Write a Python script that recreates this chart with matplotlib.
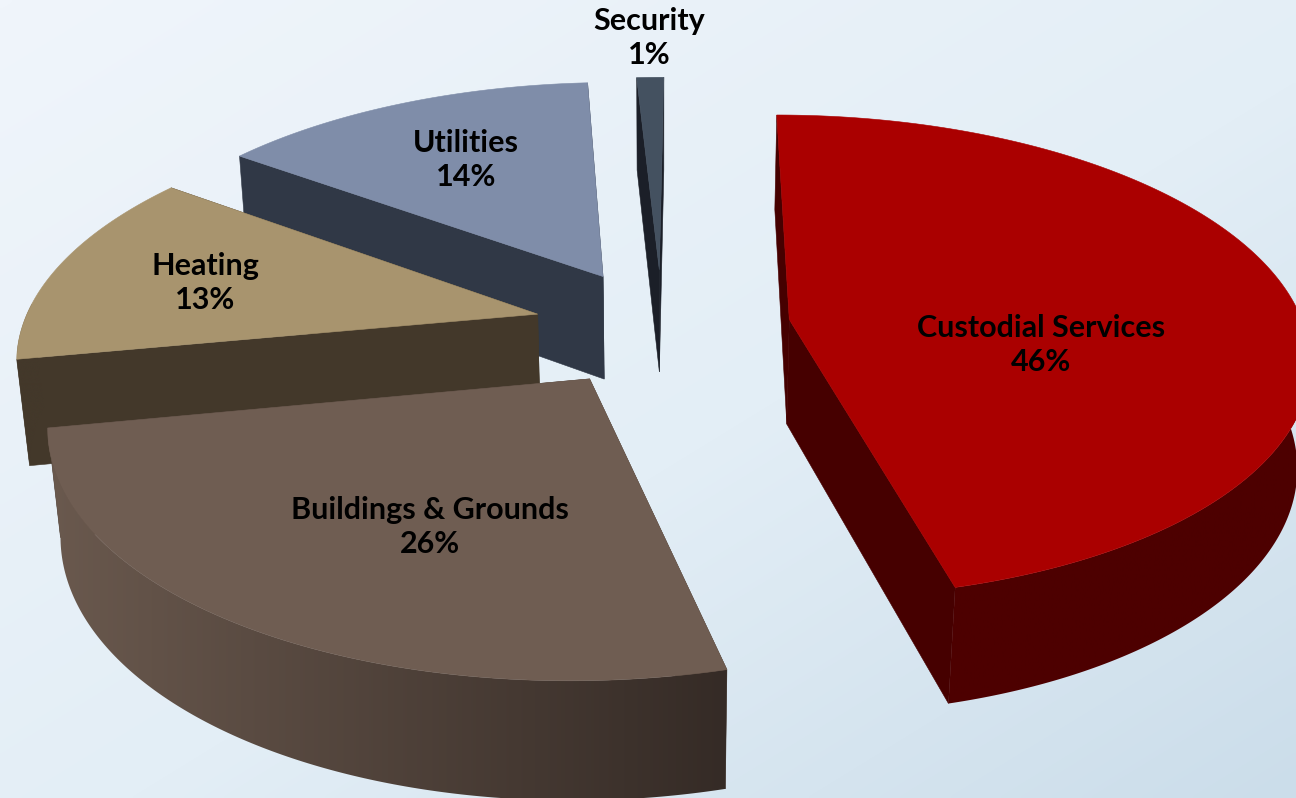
import numpy as np
import matplotlib
matplotlib.use("Agg")
import matplotlib.pyplot as plt
from matplotlib.colors import LinearSegmentedColormap, to_rgb
from matplotlib.patches import Polygon

# Budget shares, clockwise from twelve o'clock
categories = ["Custodial Services", "Buildings & Grounds", "Heating", "Utilities", "Security"]
shares = [46, 26, 13, 14, 1]

top_colors = ["#AA0000", "#6F5D52", "#A8946E", "#7F8DA9", "#445160"]
side_colors = ["#460000", "#4A3C33", "#43382A", "#303846", "#1B1F28"]
wall_near = ["#4D0000", "#6A594E", "#43382A", "#303846", "#1B1F28"]
wall_far = ["#4D0000", "#352B26", "#43382A", "#303846", "#1B1F28"]

# Projection settings for the tilted pie
W, H = 1296, 798
CX, CY = 662.0, 327.0
SCALE_X, SCALE_Y = 515.0, 238.0
SHEAR = 5.0
PERSPECTIVE = 0.153
THICK_PX = 107.0
THICK_W = 0.02
EXPLODE = 0.25
START_DEG = 0.0


def project(x, y, bottom=False):
    x, y = np.asarray(x), np.asarray(y)
    w = 1 + PERSPECTIVE * y
    dz = THICK_PX if bottom else 0.0
    w = w + (THICK_W if bottom else 0.0)
    return CX + (SCALE_X * x + SHEAR * y) / w, CY + (-SCALE_Y * y + dz) / w


fig = plt.figure(figsize=(W / 100, H / 100), dpi=100)
ax = fig.add_axes([0, 0, 1, 1])
ax.set_xlim(0, W)
ax.set_ylim(H, 0)
ax.set_autoscale_on(False)
ax.axis("off")

# Pale diagonal wash behind the pie
gx, gy = np.meshgrid(np.linspace(0, 1, 300), np.linspace(0, 1, 200))
wash = LinearSegmentedColormap.from_list(
    "wash", [(0, "#F0F5FB"), (0.55, "#E3EEF6"), (1, "#CBDDEA")])
ax.imshow((gx + gy) / 2, cmap=wash, vmin=0, vmax=1, extent=(0, W, H, 0),
          aspect="auto", zorder=0, interpolation="bilinear")

edges = np.radians(START_DEG + np.concatenate([[0], np.cumsum(shares)]) * 3.6)
# Painted back to front so nearer slices cover farther ones
order = [4, 3, 2, 1, 0]
z = 1
for i in order:
    a0, a1 = edges[i], edges[i + 1]
    mid = (a0 + a1) / 2
    ox, oy = EXPLODE * np.sin(mid), EXPLODE * np.cos(mid)
    t = np.linspace(a0, a1, max(8, int(shares[i] * 6)))
    px, py = ox + np.sin(t), oy + np.cos(t)

    tx, ty = project(px, py)
    bx, by = project(px, py, bottom=True)
    ax0, ay0 = project(ox, oy)
    bx0, by0 = project(ox, oy, bottom=True)

    side = to_rgb(side_colors[i])
    # Two flat cut faces
    for k in (0, -1):
        ax.add_patch(Polygon([(ax0, ay0), (tx[k], ty[k]), (bx[k], by[k]), (bx0, by0)],
                             closed=True, fc=side, ec=side, lw=0.4, zorder=z))
    z += 1
    # Curved outer wall, on the side facing the viewer, shaded left to right
    front = np.cos(t) < 0.05
    if front.sum() >= 2:
        wall = np.vstack([np.column_stack([tx[front], ty[front]]),
                          np.column_stack([bx[front], by[front]])[::-1]])
        x0, x1 = wall[:, 0].min(), wall[:, 0].max()
        y0, y1 = wall[:, 1].min(), wall[:, 1].max()
        ramp = LinearSegmentedColormap.from_list("ramp", [wall_near[i], wall_far[i]])
        img = ax.imshow(np.linspace(0, 1, 256)[None, :], cmap=ramp, vmin=0, vmax=1,
                        extent=(x0, x1, y1, y0), aspect="auto", zorder=z,
                        interpolation="bilinear")
        outline = Polygon(wall, closed=True, transform=ax.transData, fc="none", ec="none")
        ax.add_patch(outline)
        img.set_clip_path(outline)
    z += 1
    top = np.column_stack([np.r_[ax0, tx], np.r_[ay0, ty]])
    ax.add_patch(Polygon(top, closed=True, fc=top_colors[i], ec=top_colors[i], lw=0.4, zorder=z))
    z += 1

# Slice captions: name above rounded share
label_x = [1041, 430, 205, 466, 649]
label_y = [345, 527, 283, 160, 38]
for name, share, lx, ly in zip(categories, shares, label_x, label_y):
    ax.text(lx, ly, f"{name}\n{share}%", ha="center", va="center", color="black",
            fontsize=22, fontweight="bold", family="Lato", linespacing=1.27, zorder=100)

fig.savefig("out.png", dpi=100)
